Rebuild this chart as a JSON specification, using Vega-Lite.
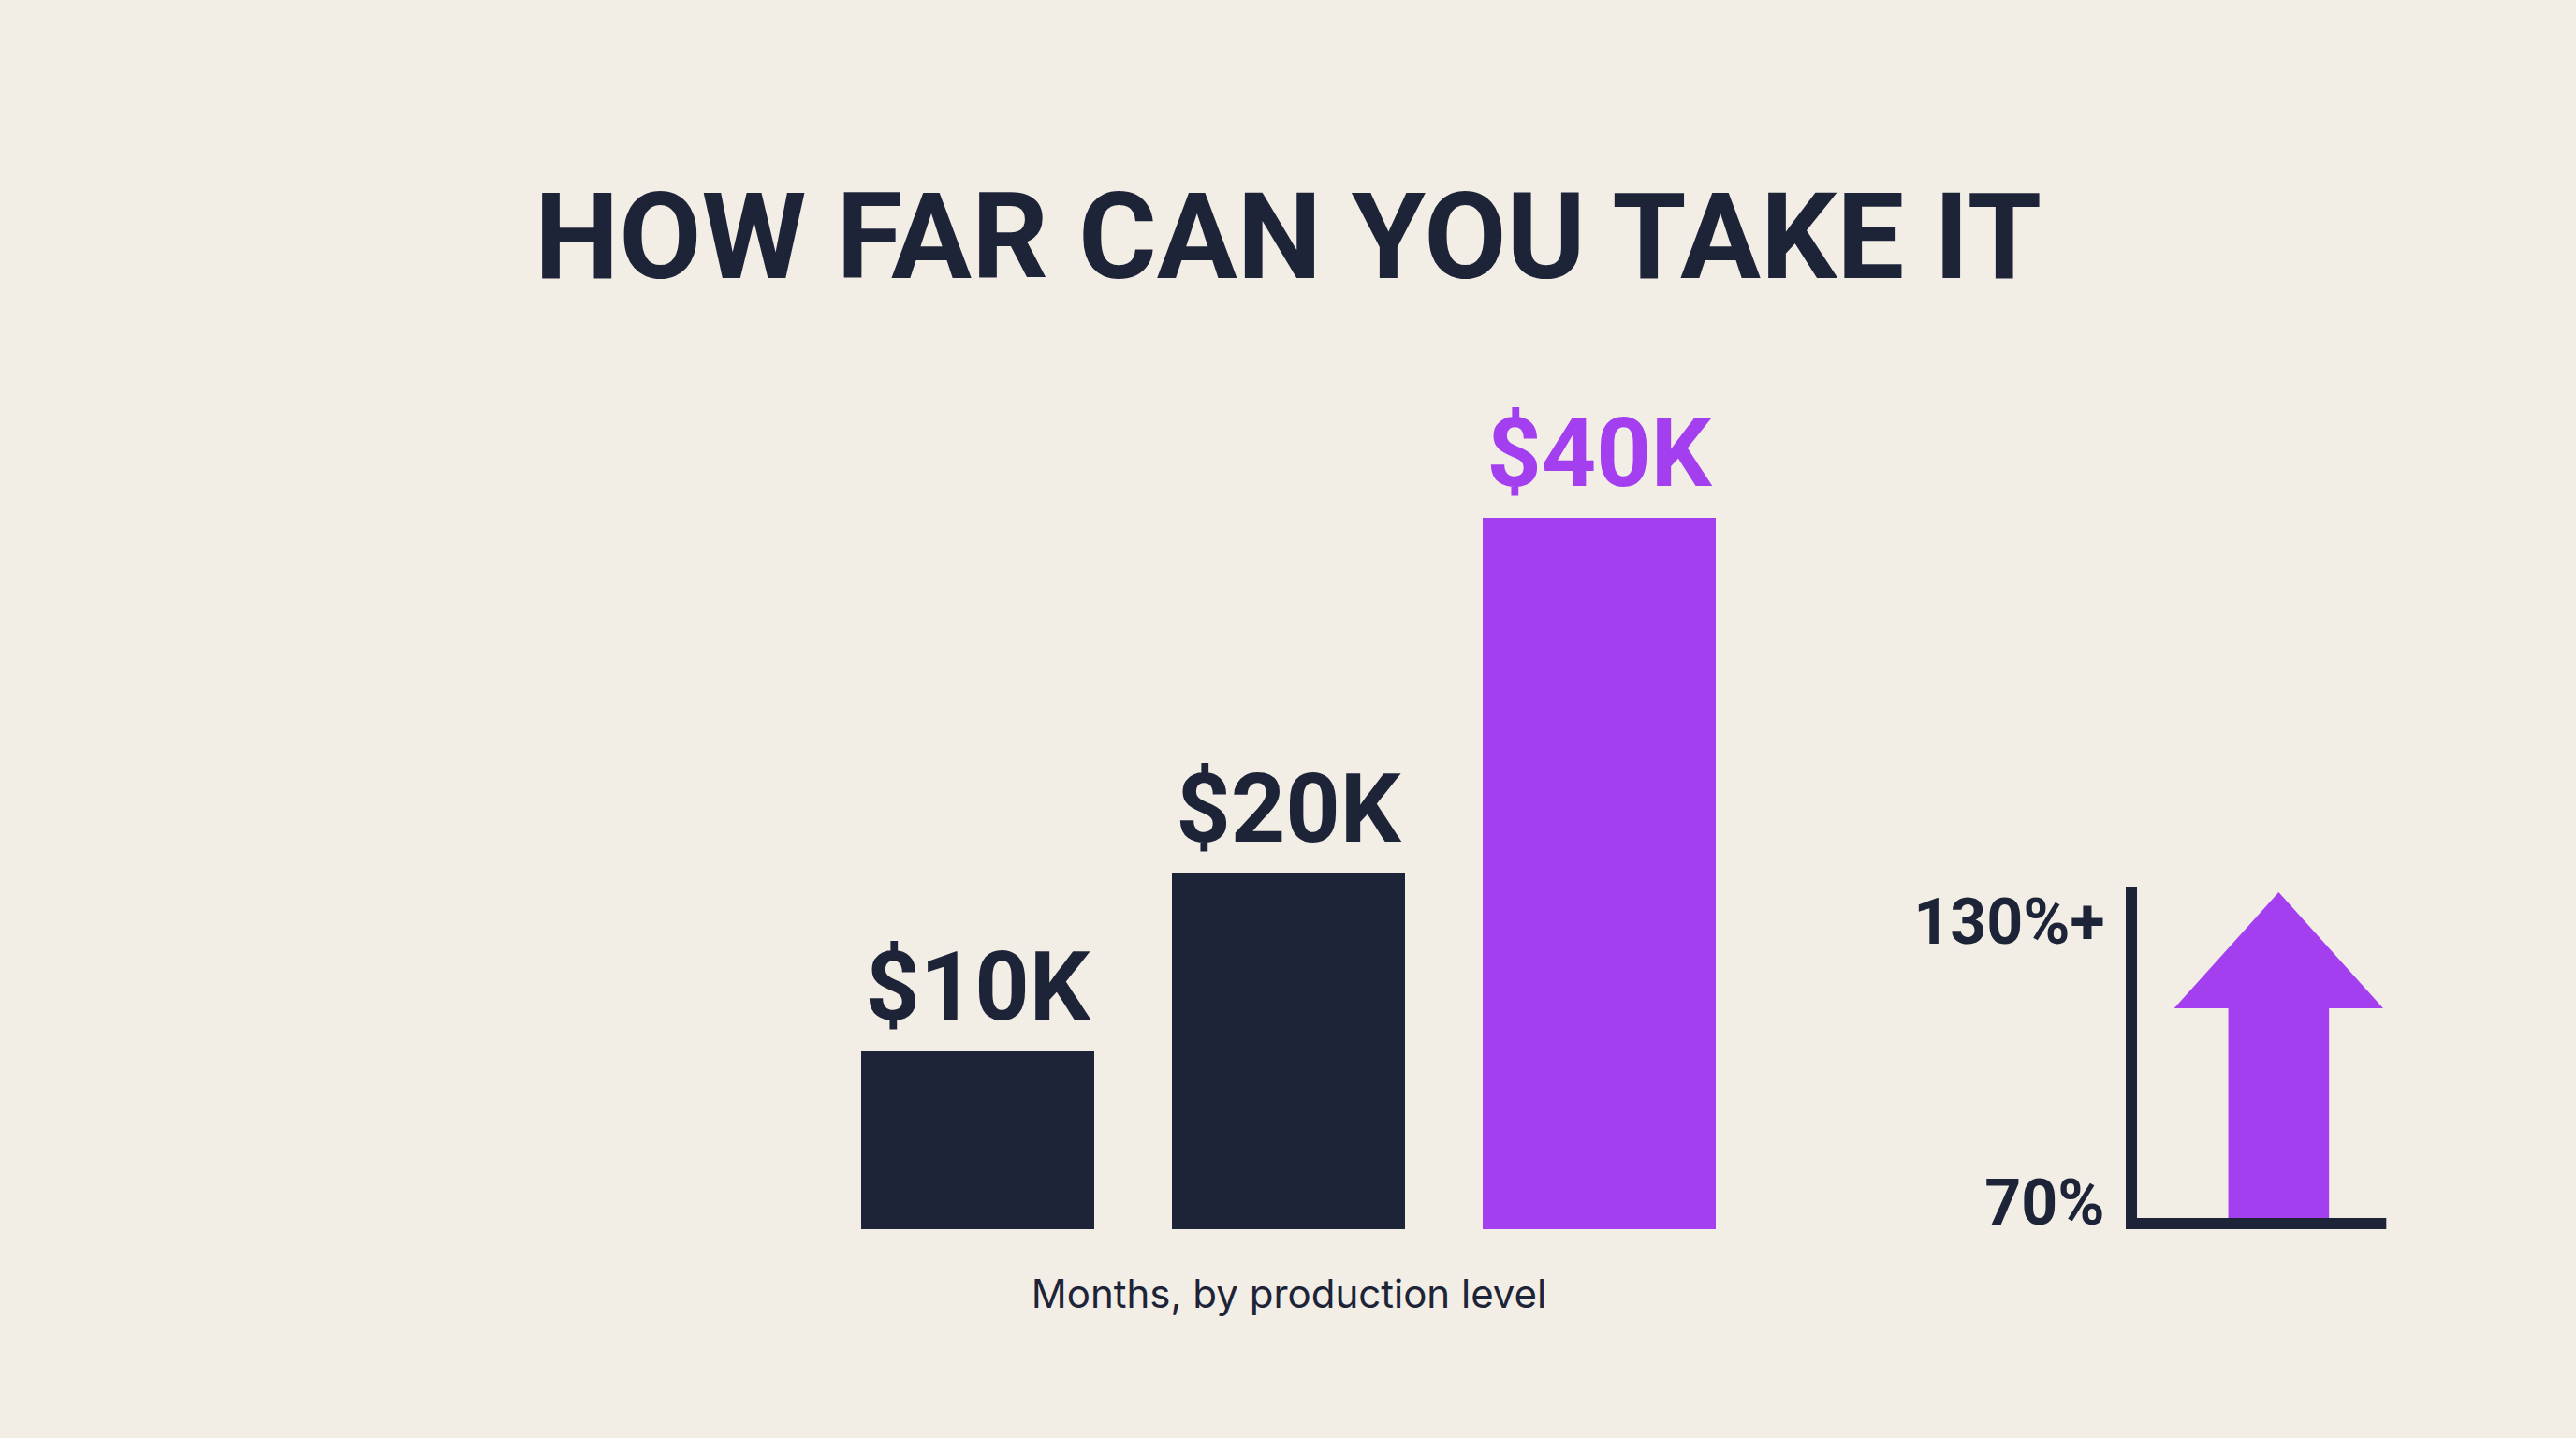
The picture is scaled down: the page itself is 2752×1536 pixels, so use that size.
{
  "$schema": "https://vega.github.io/schema/vega-lite/v6.json",
  "background": "#F3EEE5",
  "autosize": {"type": "none"},
  "padding": {"left": 878.5, "top": 553, "right": 1873.5, "bottom": 983},
  "bounds": "flush",
  "title": {
    "text": "HOW FAR CAN YOU TAKE IT",
    "font": "Roboto",
    "fontWeight": "bold",
    "fontSize": 128,
    "color": "#1E2438",
    "anchor": "start",
    "align": "center",
    "dx": 497.5,
    "offset": 113
  },
  "config": {"view": {"stroke": null}},
  "datasets": {
    "bars": [
      {"level": "Level 1", "value": 10, "label": "$10K", "tier": "standard"},
      {"level": "Level 2", "value": 20, "label": "$20K", "tier": "standard"},
      {"level": "Level 3", "value": 40, "label": "$40K", "tier": "top"}
    ],
    "shaft": [{"x1": 38.5, "x2": 78.5, "y1": 70, "y2": 109}],
    "head": [
      {"hx": 17, "hy": 109, "base": 109},
      {"hx": 58.5, "hy": 130, "base": 109},
      {"hx": 100, "hy": 109, "base": 109}
    ],
    "axes": [
      {"ax": 0, "ax2": 0, "ay": 70, "ay2": 130},
      {"ax": 0, "ax2": 99, "ay": 70, "ay2": 70}
    ]
  },
  "spacing": 402.5,
  "hconcat": [
    {
      "width": 996,
      "height": 760,
      "data": {"name": "bars"},
      "encoding": {
        "x": {
          "field": "level",
          "type": "nominal",
          "sort": null,
          "scale": {"paddingInner": 0.25, "paddingOuter": 0.125},
          "axis": {
            "labels": false,
            "ticks": false,
            "domain": false,
            "title": "Months, by production level",
            "titleFont": "Inter",
            "titleFontWeight": "normal",
            "titleFontSize": 42,
            "titleColor": "#1E2438",
            "titlePadding": 50
          }
        },
        "y": {
          "field": "value",
          "type": "quantitative",
          "scale": {"domain": [0, 40], "nice": false},
          "axis": null
        },
        "color": {
          "field": "tier",
          "type": "nominal",
          "scale": {"domain": ["standard", "top"], "range": ["#1E2438", "#A43FF0"]},
          "legend": null
        }
      },
      "layer": [
        {"mark": {"type": "bar"}},
        {
          "mark": {
            "type": "text",
            "baseline": "alphabetic",
            "dy": -34,
            "font": "Roboto",
            "fontWeight": "bold",
            "fontSize": 102
          },
          "encoding": {"text": {"field": "label"}}
        }
      ]
    },
    {
      "width": 269,
      "height": 760,
      "layer": [
        {
          "data": {"name": "shaft"},
          "mark": {"type": "bar", "color": "#A43FF0"},
          "encoding": {
            "x": {"field": "x1", "type": "quantitative", "scale": {"domain": [0, 100], "nice": false, "zero": false}, "axis": null},
            "x2": {"field": "x2"},
            "y": {
              "field": "y1",
              "type": "quantitative",
              "scale": {"domain": [69, 197.8], "nice": false, "zero": false},
              "axis": {
                "values": [70, 130],
                "labelExpr": "datum.value > 100 ? '130%+' : '70%'",
                "labelFont": "Roboto",
                "labelFontWeight": "bold",
                "labelFontSize": 68,
                "labelColor": "#1E2438",
                "labelPadding": 29,
                "labelLimit": 500,
                "labelBaseline": {"condition": {"test": "datum.value > 100", "value": "top"}, "value": "alphabetic"},
                "ticks": false,
                "domain": false,
                "grid": false,
                "title": null
              }
            },
            "y2": {"field": "y2"}
          }
        },
        {
          "data": {"name": "head"},
          "mark": {"type": "area", "color": "#A43FF0", "interpolate": "linear"},
          "encoding": {
            "x": {"field": "hx", "type": "quantitative"},
            "y": {"field": "hy", "type": "quantitative"},
            "y2": {"field": "base"}
          }
        },
        {
          "data": {"name": "axes"},
          "mark": {"type": "rule", "color": "#1E2438", "strokeWidth": 12, "strokeCap": "square"},
          "encoding": {
            "x": {"field": "ax", "type": "quantitative"},
            "x2": {"field": "ax2"},
            "y": {"field": "ay", "type": "quantitative"},
            "y2": {"field": "ay2"}
          }
        }
      ]
    }
  ]
}
